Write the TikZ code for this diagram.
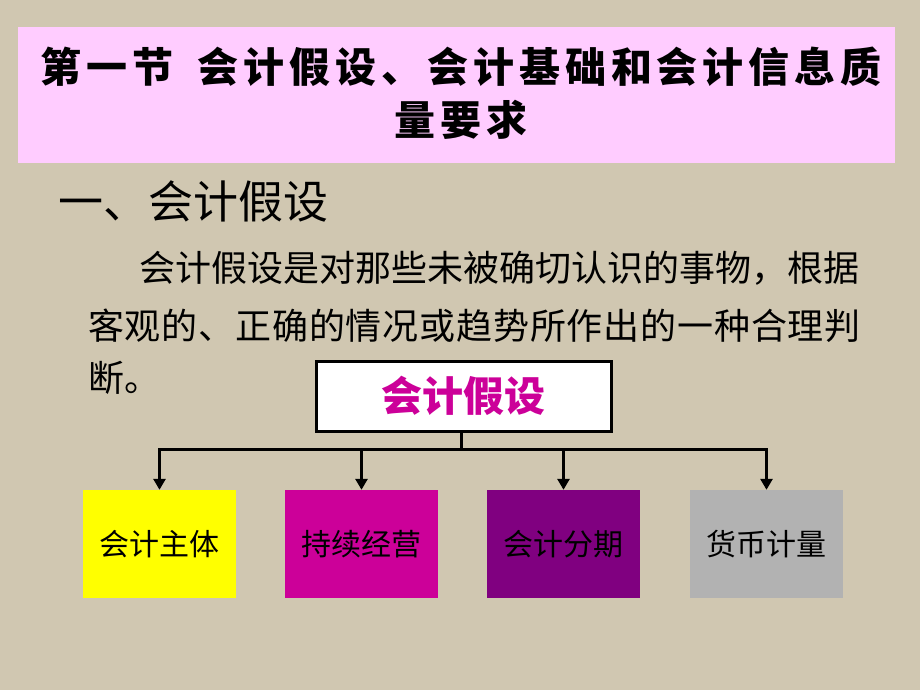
\documentclass[tikz,border=0pt]{standalone}
\usepackage{fontspec}
\newfontfamily\cjk{Noto Sans CJK SC}
\newfontfamily\cjkls[LetterSpace=2.3]{Noto Sans CJK SC}
\newfontfamily\cjktitle[LetterSpace=12]{Noto Sans CJK SC}
\usetikzlibrary{arrows.meta}
\definecolor{bgbeige}{RGB}{208,199,177}
\definecolor{titlepink}{RGB}{255,204,255}
\definecolor{boxyellow}{RGB}{255,255,0}
\definecolor{boxmagenta}{RGB}{204,0,153}
\definecolor{boxpurple}{RGB}{128,0,128}
\definecolor{boxgray}{RGB}{178,178,178}
\tikzset{
  leafbox/.style={minimum width=153pt,minimum height=108pt,inner sep=0pt,font=\cjk\fontsize{30}{33}\selectfont,text=black},
  connline/.style={line width=3pt},
  arrowline/.style={line width=3pt,-{Triangle[length=11pt,width=12pt]}},
  bodytext/.style={anchor=west,inner sep=0pt,font=\cjk\fontsize{36}{40}\selectfont,text=black},
  titletext/.style={inner sep=0pt,font=\cjktitle\bfseries\fontsize{41}{48}\selectfont},
}
\begin{document}
\begin{tikzpicture}[x=1pt,y=-1pt]
\useasboundingbox (0,0) rectangle (920,690);
\fill[bgbeige] (0,0) rectangle (920,690);
% title
\node[fill=titlepink,minimum width=877pt,minimum height=136pt,inner sep=0pt] (title) at (456.5,95) {};
\node[titletext] (t1) at (461,67) {第一节\hspace{0.6em}会计假设、会计基础和会计信息质};
\node[titletext] (t2) at (461,120) {量要求};
% heading
\node[anchor=west,inner sep=0pt,font=\cjk\fontsize{45}{50}\selectfont] (head) at (58,201) {一、会计假设};
% paragraph
\node[bodytext] (p1) at (139,268) {会计假设是对那些未被确切认识的事物，根据};
\node[bodytext,font=\cjkls\fontsize{36}{40}\selectfont] (p2) at (88,326) {客观的、正确的情况或趋势所作出的一种合理判};
\node[bodytext] (p3) at (88,378) {断。};
% top box
\node[draw=black,line width=3pt,fill=white,minimum width=295pt,minimum height=70pt,inner sep=0pt,text=boxmagenta,font=\cjk\bfseries\fontsize{41}{45}\selectfont] (top) at (463.5,396) {会计假设};
% leaves
\node[leafbox,fill=boxyellow] (b1) at (159.5,544) {会计主体};
\node[leafbox,fill=boxmagenta] (b2) at (361.5,544) {持续经营};
\node[leafbox,fill=boxpurple] (b3) at (563.5,544) {会计分期};
\node[leafbox,fill=boxgray] (b4) at (766.5,544) {货币计量};
% connectors
\coordinate (jn) at (461,449);
\draw[connline] (top.south -| jn) -- (jn);
\draw[arrowline] (jn) -| (b1.north);
\draw[arrowline] (jn) -| (b2.north);
\draw[arrowline] (jn) -| (b3.north);
\draw[arrowline] (jn) -| (b4.north);
\end{tikzpicture}
\end{document}
